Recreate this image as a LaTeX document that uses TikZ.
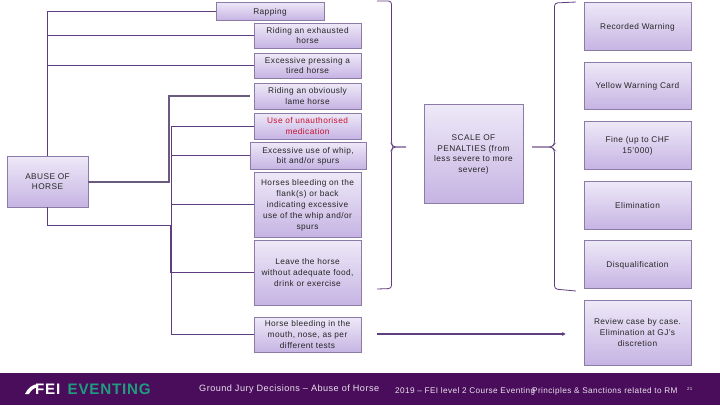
\documentclass[tikz,border=0pt]{standalone}
\usepackage{fontspec}
\setmainfont[LetterSpace=5]{Liberation Sans}
\usetikzlibrary{arrows.meta}
\definecolor{barpurple}{HTML}{4A0D5C}
\definecolor{linepurple}{HTML}{5F3D7E}
\definecolor{trunkgrey}{HTML}{6B5A80}
\definecolor{edgepurple}{HTML}{8B7BA6}
\definecolor{boxtop}{HTML}{EEE9F8}
\definecolor{boxbot}{HTML}{C6B4E3}
\definecolor{logogreen}{HTML}{1F9C7C}
\definecolor{alertred}{HTML}{C8102E}

\begin{document}
\begin{tikzpicture}[
  x=1pt, y=-1pt,
  font=\fontsize{8.3}{10.8}\selectfont,
  bx/.style={draw=edgepurple, line width=0.9pt, top color=boxtop, bottom color=boxbot, align=center, inner sep=0pt, outer sep=0pt, minimum width=107pt, text=black!85, text depth=-2pt},
  link/.style={linepurple, line width=0.9pt},
  trunk/.style={trunkgrey, line width=1.6pt},
  bracket/.style={linepurple, line width=0.8pt, rounded corners=3pt},
  foot/.style={font=\fontsize{8.2}{10}\selectfont, white!88!barpurple, inner sep=0pt, anchor=west},
  logo/.style={font=\bfseries\fontsize{15.2}{16}\selectfont, inner sep=0pt, anchor=west}
]
\useasboundingbox (0,0) rectangle (720,405);
\fill[barpurple] (0,373) rectangle (720,405);
% ---------- Left: offences ----------
\node[bx, minimum width=81pt, minimum height=51pt] (abuse) at (47.5,181.5) {ABUSE OF\\HORSE};
\node[bx, minimum width=108pt, minimum height=18pt] (rapping) at (270,11) {Rapping};
\node[bx, minimum height=25pt] (exhausted) at (307.5,35.5) {Riding an exhausted\\horse};
\node[bx, minimum height=25pt] (pressing) at (307.5,65.5) {Excessive pressing a\\tired horse};
\node[bx, minimum height=26pt] (lame) at (307.5,96) {Riding an obviously\\lame horse};
\node[bx, minimum height=26pt, text=alertred] (medication) at (307.5,126) {Use of unauthorised\\medication};
\node[bx, minimum width=116pt, minimum height=27pt] (whip) at (308,155.5) {Excessive use of whip,\\bit and/or spurs};
\node[bx, minimum height=65pt] (flank) at (307.5,204.5) {Horses bleeding on the\\flank(s) or back\\indicating excessive\\use of the whip and/or\\spurs};
\node[bx, minimum height=65pt] (neglect) at (307.5,272.5) {Leave the horse\\without adequate food,\\drink or exercise};
\node[bx, minimum height=35pt] (mouth) at (307.5,334.5) {Horse bleeding in the\\mouth, nose, as per\\different tests};
% ---------- Middle and right: penalties ----------
\node[bx, minimum width=99pt, minimum height=99pt] (scale) at (473.5,153.5) {SCALE OF\\PENALTIES (from\\less severe to more\\severe)};
\node[bx, minimum height=48pt] (recorded) at (637.5,26) {Recorded Warning};
\node[bx, minimum height=47pt] (yellow) at (637.5,85.5) {Yellow Warning Card};
\node[bx, minimum height=48pt] (fine) at (637.5,145) {Fine (up to CHF\\15'000)};
\node[bx, minimum height=48pt] (elimination) at (637.5,205) {Elimination};
\node[bx, minimum height=48pt] (disqualification) at (637.5,264) {Disqualification};
\node[bx, minimum height=65pt] (review) at (637.5,332.5) {Review case by case.\\Elimination at GJ's\\discretion};
% ---------- Connectors ----------
\coordinate (split) at (47.5,225);
\coordinate (joint) at (169,182);
\coordinate (lamein) at (250,96);
\coordinate (spine) at (171,126);
\coordinate (spinemid) at (171,225);
\draw[link] (abuse.north) |- (rapping.west);
\draw[link] (abuse.north |- exhausted.west) -- (exhausted.west);
\draw[link] (abuse.north |- pressing.west) -- (pressing.west);
\draw[trunk] (abuse.east |- joint) -- (joint) |- (lamein);
\draw[link] (abuse.south) -- (split) -- (spinemid);
\draw[link] (medication.west) -- (spine) |- (mouth.west);
\draw[link] (spine |- whip.west) -- (whip.west);
\draw[link] (spine |- flank.west) -- (flank.west);
\draw[link] (spine |- neglect.west) -- (neglect.west);
\draw[linepurple, line width=1.4pt] (spinemid) -- (spine |- neglect.west);
% ---------- Braces ----------
\draw[bracket] (377,1) -- (391.5,1) -- (391.5,144) -- (393,147) -- (406,147);
\draw[bracket] (406,147) -- (393,147) -- (391.5,150) -- (391.5,288.5) -- (377,289);
\draw[bracket] (576,2) -- (554.5,3) -- (554.5,144) -- (552,147) -- (532,147);
\draw[bracket] (532,147) -- (552,147) -- (554.5,150) -- (554.5,289) -- (576,291);
\coordinate (armstart) at (377,334);
\coordinate (armend) at (565.5,334);
\draw[linepurple, line width=1.5pt, -{Stealth[length=3.5pt, width=4pt]}] (armstart) -- (armend);
% ---------- Footer ----------
\node[logo, white] (fei) at (35,389) {FEI};
\fill[white] (25,394) .. controls (28,388) and (32,384.5) .. (38,384) -- (38,387) .. controls (34,388) and (31,390) .. (29,394) -- cycle;
\node[logo, logogreen] (eventing) at (67.5,389) {EVENTING};
\node[foot, font=\fontsize{9.15}{10}\selectfont] (title) at (199,389.5) {Ground Jury Decisions – Abuse of Horse};
\node[foot] (course) at (395,391) {2019 – FEI level 2 Course Eventing};
\node[foot] (rules) at (532,391) {Principles \& Sanctions related to RM};
\node[foot, font=\fontsize{4.5}{6}\selectfont] (page) at (687,389) {21};
\end{tikzpicture}
\end{document}
